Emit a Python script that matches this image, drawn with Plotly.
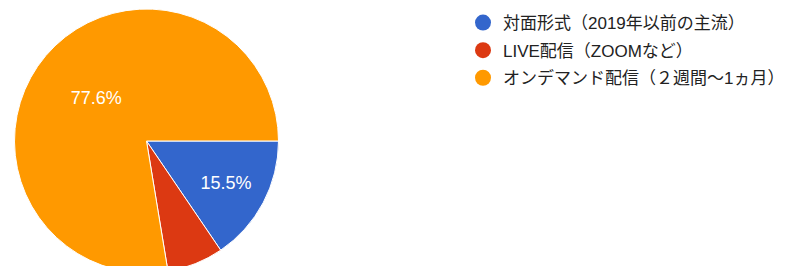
import plotly.graph_objects as go

labels = ["対面形式（2019年以前の主流）", "LIVE配信（ZOOMなど）", "オンデマンド配信（２週間〜1ヵ月）"]
values = [15.5, 6.9, 77.6]
colors = ["#3366CC", "#DC3912", "#FF9900"]

W, H = 786, 280
texts = [f"{v}%" if v >= 10 else "" for v in values]

fig = go.Figure()
fig.add_trace(go.Pie(
    labels=labels, values=values, sort=False, direction="clockwise", rotation=90,
    marker=dict(colors=colors, line=dict(color="white", width=1)),
    text=texts, textinfo="text", textposition="inside",
    insidetextorientation="horizontal",
    textfont=dict(color="white", size=18, family="Liberation Sans, Arial, sans-serif"),
    showlegend=False, hoverinfo="label+percent",
    domain=dict(x=[14 / W, 279 / W], y=[1 - 273 / H, 1 - 9 / H]),
))
for i, (lab, col) in enumerate(zip(labels, colors)):
    fig.add_trace(go.Scatter(
        x=[None], y=[None], mode="markers", name=lab, legendgroup=f"g{i}",
        marker=dict(color=col, size=16, symbol="circle"), showlegend=True,
    ))

fig.update_layout(
    width=W, height=H, margin=dict(l=0, r=0, t=0, b=0, autoexpand=False),
    paper_bgcolor="white", plot_bgcolor="white",
    xaxis=dict(visible=False), yaxis=dict(visible=False),
    font=dict(family="Liberation Sans, Noto Sans CJK JP, sans-serif", size=17, color="#222222"),
    legend=dict(x=463 / W, y=1 - 5 / H, xanchor="left", yanchor="top",
                itemsizing="trace", tracegroupgap=2.5, bgcolor="rgba(0,0,0,0)",
                font=dict(size=17, color="#222222")),
)

fig.write_html("out.html", config={"displayModeBar": False},
               post_script="document.body.style.margin='0';document.body.style.overflow='hidden';")
